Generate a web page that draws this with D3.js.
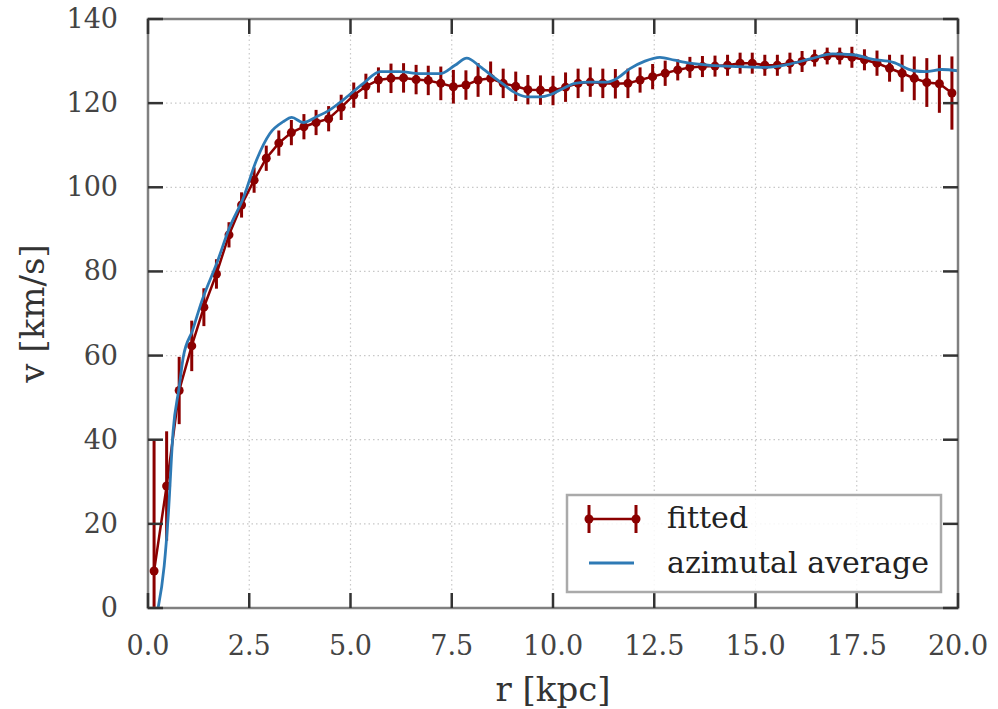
<!DOCTYPE html>
<html>
<head>
<meta charset="utf-8">
<script src="https://cdn.jsdelivr.net/npm/d3@7"></script>
<style>
  body { margin: 0; background: #fff; }
  svg { display: block; }
  text { font-family: "DejaVu Serif", serif; }
</style>
</head>
<body>
<svg id="chart" width="998" height="709"></svg>
<script>
// fitted rotation curve points
var fitR = [0.15, 0.46, 0.77, 1.08, 1.38, 1.69, 2.0, 2.31, 2.62, 2.92, 3.23, 3.54, 3.85, 4.15, 4.46,
    4.77, 5.08, 5.38, 5.69, 6.0, 6.31, 6.62, 6.92, 7.23, 7.54, 7.85, 8.15, 8.46, 8.77, 9.08, 9.38,
    9.69, 10.0, 10.31, 10.62, 10.92, 11.23, 11.54, 11.85, 12.15, 12.46, 12.77, 13.08, 13.38, 13.69,
    14.0, 14.31, 14.62, 14.92, 15.23, 15.54, 15.85, 16.15, 16.46, 16.77, 17.08, 17.38, 17.69, 18.0,
    18.31, 18.62, 18.92, 19.23, 19.54, 19.85];
var fitV = [8.8, 29, 51.7, 62.3, 71.5, 79.4, 88.7, 95.8, 101.7, 106.9, 110.5, 113, 114.4, 115.4, 116.3,
    119, 121.9, 124, 125.5, 125.9, 126, 125.6, 125.4, 124.7, 123.9, 124.3, 125.5, 125.9, 124.7, 124,
    123.2, 123.1, 123, 123.8, 124.7, 125, 124.7, 124.6, 124.7, 125.5, 126.3, 127.1, 127.9, 128.5,
    128.7, 128.8, 129, 129.5, 129.5, 129, 129, 129.5, 129.9, 130.7, 131.2, 131.2, 130.9, 130.3,
    129.5, 128.3, 127.1, 125.9, 124.9, 124.6, 122.4];
var fitErr = [31, 13, 8, 6, 4.5, 3.5, 3, 3, 3, 3, 3, 3, 3, 3, 3,
    3, 3, 3, 3, 3.5, 3.5, 3.5, 3.5, 4, 4, 3.5, 4, 4, 3.5, 3.5,
    3.5, 3.5, 3.5, 3.5, 3.5, 3.5, 3.5, 3.5, 3.5, 3, 3, 3, 2.5, 2.5,
    2.5, 2.5, 2.5, 2.5, 2.5, 2.5, 2.5, 2.5, 2.5, 2, 2, 2, 2.5, 2.5,
    3, 3.2, 4.4, 5.2, 5.8, 6.9, 8.7];

// azimuthal average curve
var avgR = [0.25, 0.4, 0.5, 0.62, 0.77, 0.87, 1.1, 1.33, 1.7, 2.02, 2.35, 2.68, 3.01, 3.34, 3.55,
    3.83, 4.17, 4.49, 4.82, 5.32, 5.73, 6.2, 6.72, 7.21, 7.58, 7.87, 8.2, 8.52, 8.77, 9.06, 9.36,
    9.68, 9.93, 10.25, 10.54, 10.9, 11.33, 11.6, 11.9, 12.27, 12.64, 13.0, 13.38, 13.88, 14.6,
    15.28, 15.85, 16.35, 16.9, 17.4, 17.9, 18.4, 18.9, 19.2, 19.6, 20.0];
var avgV = [0, 10, 22, 42, 52.5, 59.6, 66, 73, 82, 90.6, 97.4, 106.5, 112.8, 115.6, 116.6,
    115.4, 116.8, 118.4, 120.8, 124.7, 127.5, 127.5, 127, 127, 129, 130.7, 128.7, 126.3, 124.5, 122.5, 121.5,
    121.5, 122, 123.5, 124.7, 125, 125, 126, 128.2, 130, 130.9, 130.2, 129.5, 129, 128.7,
    128.5, 129.3, 130.5, 131.7, 131.5, 130.4, 129.7, 127.7, 127.5, 128, 127.7];

var xTicks = [0, 2.5, 5, 7.5, 10, 12.5, 15, 17.5, 20];
var yTicks = [0, 20, 40, 60, 80, 100, 120, 140];
var legendLabels = ["fitted", "azimutal average"];

var W = 998, H = 709;
var margin = {left: 148, right: 40, top: 19, bottom: 101};
var red = "#8b0000", blue = "#2e7ab5";

var svg = d3.select('#chart');
var x = d3.scaleLinear().domain([0, 20]).range([margin.left, W - margin.right]);
var y = d3.scaleLinear().domain([0, 140]).range([H - margin.bottom, margin.top]);

svg.append('defs').append('clipPath').attr('id', 'plotclip')
    .append('rect')
    .attr('x', x(0)).attr('y', y(140))
    .attr('width', x(20) - x(0)).attr('height', y(0) - y(140));

// grid
var grid = svg.append('g').attr('class', 'grid');
grid.selectAll('line.gx').data(xTicks).enter().append('line')
    .attr('x1', d => x(d)).attr('x2', d => x(d))
    .attr('y1', y(0)).attr('y2', y(140))
    .attr('stroke', '#c8c8c8').attr('stroke-width', 1.2).attr('stroke-dasharray', '1.5,3');
grid.selectAll('line.gy').data(yTicks).enter().append('line')
    .attr('x1', x(0)).attr('x2', x(20))
    .attr('y1', d => y(d)).attr('y2', d => y(d))
    .attr('stroke', '#c8c8c8').attr('stroke-width', 1.2).attr('stroke-dasharray', '1.5,3');

var plot = svg.append('g').attr('clip-path', 'url(#plotclip)');

// fitted: error bars, line, markers
var fitData = fitR.map((r, i) => ({r: r, v: fitV[i], e: fitErr[i]}));
plot.append('g').selectAll('line').data(fitData).enter().append('line')
    .attr('x1', d => x(d.r)).attr('x2', d => x(d.r))
    .attr('y1', d => y(d.v - d.e)).attr('y2', d => y(d.v + d.e))
    .attr('stroke', red).attr('stroke-width', 3);
var line = d3.line().x(d => x(d.r)).y(d => y(d.v));
plot.append('path').datum(fitData)
    .attr('d', line)
    .attr('fill', 'none').attr('stroke', red).attr('stroke-width', 2.5);
plot.append('g').selectAll('circle').data(fitData).enter().append('circle')
    .attr('cx', d => x(d.r)).attr('cy', d => y(d.v)).attr('r', 4.5)
    .attr('fill', red);

// azimuthal average
var avgData = avgR.map((r, i) => ({r: r, v: avgV[i]}));
plot.append('path').datum(avgData)
    .attr('d', d3.line().x(d => x(d.r)).y(d => y(d.v)).curve(d3.curveMonotoneX))
    .attr('fill', 'none').attr('stroke', blue).attr('stroke-width', 2.8);

// frame
svg.append('rect')
    .attr('x', x(0)).attr('y', y(140))
    .attr('width', x(20) - x(0)).attr('height', y(0) - y(140))
    .attr('fill', 'none').attr('stroke', '#808080').attr('stroke-width', 2.5);

// ticks (inside, all four sides)
var tl = 15;
var ticks = svg.append('g').attr('stroke', '#333').attr('stroke-width', 2.5);
xTicks.forEach(t => {
    ticks.append('line').attr('x1', x(t)).attr('x2', x(t)).attr('y1', y(0)).attr('y2', y(0) - tl);
    ticks.append('line').attr('x1', x(t)).attr('x2', x(t)).attr('y1', y(140)).attr('y2', y(140) + tl);
});
yTicks.forEach(t => {
    ticks.append('line').attr('x1', x(0)).attr('x2', x(0) + tl).attr('y1', y(t)).attr('y2', y(t));
    ticks.append('line').attr('x1', x(20)).attr('x2', x(20) - tl).attr('y1', y(t)).attr('y2', y(t));
});

// tick labels
svg.append('g').selectAll('text').data(xTicks).enter().append('text')
    .attr('x', d => x(d)).attr('y', 655)
    .attr('text-anchor', 'middle').attr('font-size', 27).attr('fill', '#444')
    .text(d => d.toFixed(1));
svg.append('g').selectAll('text').data(yTicks).enter().append('text')
    .attr('x', 118).attr('y', d => y(d) + 9)
    .attr('text-anchor', 'end').attr('font-size', 27).attr('fill', '#444')
    .text(d => d);

// axis labels
svg.append('text')
    .attr('x', (x(0) + x(20)) / 2).attr('y', 701)
    .attr('text-anchor', 'middle').attr('font-size', 34).attr('fill', '#333')
    .text('r [kpc]');
svg.append('text')
    .attr('transform', 'translate(44,' + ((y(0) + y(140)) / 2) + ') rotate(-90)')
    .attr('text-anchor', 'middle').attr('font-size', 34).attr('fill', '#333')
    .text('v [km/s]');

// legend
var lg = svg.append('g');
lg.append('rect')
    .attr('x', 567).attr('y', 495).attr('width', 374).attr('height', 97)
    .attr('fill', 'white').attr('fill-opacity', 0.85)
    .attr('stroke', '#aaa').attr('stroke-width', 2.5);
lg.append('line').attr('x1', 589).attr('x2', 636).attr('y1', 519).attr('y2', 519)
    .attr('stroke', red).attr('stroke-width', 2.5);
[589, 636].forEach(px => {
    lg.append('line').attr('x1', px).attr('x2', px).attr('y1', 505).attr('y2', 533)
        .attr('stroke', red).attr('stroke-width', 3);
    lg.append('circle').attr('cx', px).attr('cy', 519).attr('r', 4.5).attr('fill', red);
});
lg.append('line').attr('x1', 589).attr('x2', 634).attr('y1', 563).attr('y2', 563)
    .attr('stroke', blue).attr('stroke-width', 2.8);
lg.selectAll('text.lbl').data(legendLabels).enter().append('text')
    .attr('x', 667).attr('y', (d, i) => 528 + i * 45)
    .attr('font-size', 30).attr('fill', '#222')
    .text(d => d);
</script>
</body>
</html>
